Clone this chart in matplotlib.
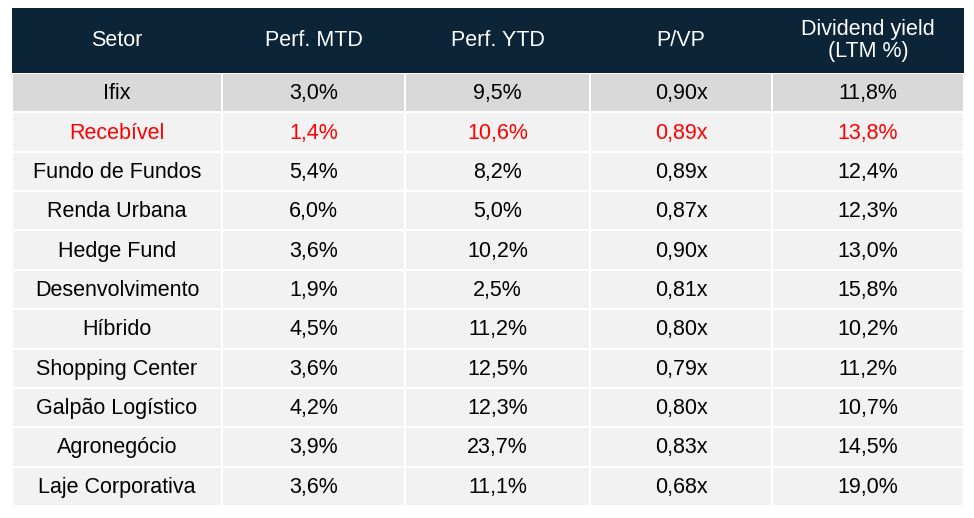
import matplotlib.pyplot as plt
from matplotlib.patches import Rectangle

plt.rcParams['font.family'] = ['Liberation Sans', 'DejaVu Sans']

cabecalho = ['Setor', 'Perf. MTD', 'Perf. YTD', 'P/VP', 'Dividend yield\n(LTM %)']
setores = ['Ifix', 'Recebível', 'Fundo de Fundos', 'Renda Urbana', 'Hedge Fund',
           'Desenvolvimento', 'Híbrido', 'Shopping Center', 'Galpão Logístico',
           'Agronegócio', 'Laje Corporativa']
perf_mtd = ['3,0%', '1,4%', '5,4%', '6,0%', '3,6%', '1,9%', '4,5%', '3,6%', '4,2%', '3,9%', '3,6%']
perf_ytd = ['9,5%', '10,6%', '8,2%', '5,0%', '10,2%', '2,5%', '11,2%', '12,5%', '12,3%', '23,7%', '11,1%']
p_vp = ['0,90x', '0,89x', '0,89x', '0,87x', '0,90x', '0,81x', '0,80x', '0,79x', '0,80x', '0,83x', '0,68x']
dy = ['11,8%', '13,8%', '12,4%', '12,3%', '13,0%', '15,8%', '10,2%', '11,2%', '10,7%', '14,5%', '19,0%']

fig = plt.figure(figsize=(9.74, 5.18), dpi=100)
ax = fig.add_axes([0, 0, 1, 1])
ax.set_xlim(0, 974)
ax.set_ylim(518, 0)
ax.axis('off')

bordas = [12, 222, 405, 590, 772, 964]
topo, base_cab, fim = 8, 73, 506
altura = (fim - base_cab) / len(setores)

for j, txt in enumerate(cabecalho):
    x0, x1 = bordas[j], bordas[j + 1]
    ax.add_patch(Rectangle((x0, topo), x1 - x0, base_cab - topo, color='#0c2438', lw=0))
    ax.text((x0 + x1) / 2, (topo + base_cab) / 2, txt, color='white', fontsize=15.5,
            ha='center', va='center', linespacing=1.1)

colunas = [setores, perf_mtd, perf_ytd, p_vp, dy]
for i in range(len(setores)):
    y0 = base_cab + i * altura
    fundo = '#d9d9d9' if i == 0 else '#f2f2f2'
    cor = 'red' if setores[i] == 'Recebível' else 'black'
    for j, col in enumerate(colunas):
        x0, x1 = bordas[j], bordas[j + 1]
        ax.add_patch(Rectangle((x0 + 1, y0 + 1), x1 - x0 - 2, altura - 2, color=fundo, lw=0))
        ax.text((x0 + x1) / 2, y0 + altura / 2 + 1, col[i], color=cor, fontsize=15.5,
                ha='center', va='center')

fig.savefig('out.png', dpi=100)
